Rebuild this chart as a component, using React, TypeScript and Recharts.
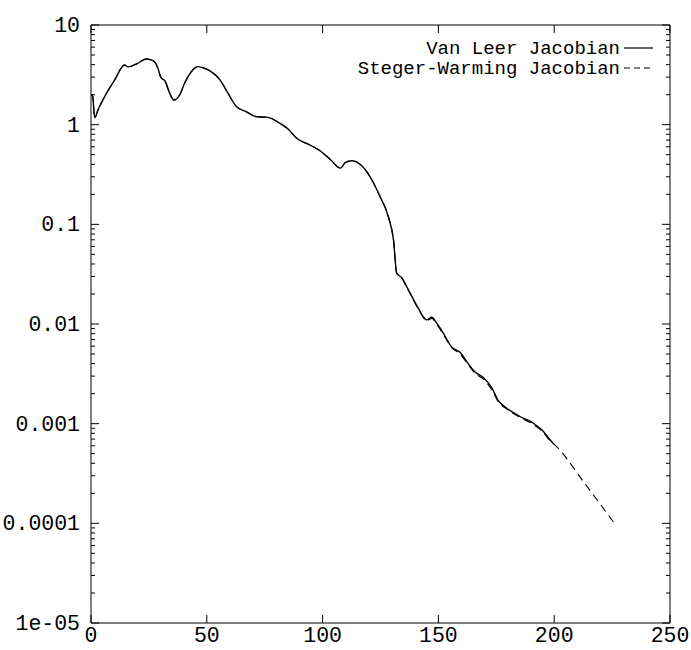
import { LineChart, Line, XAxis, YAxis } from 'recharts';

// Van Leer Jacobian: residual history
const vlIter = [0, 0.7, 1.6, 3, 5.9, 10.2, 14.5, 16, 19.6, 23.9, 26.8, 28.9, 30.1, 32.1, 34, 35.8, 38.3, 40.4, 43.3, 46.2, 48, 51, 56, 58.5, 62.9, 67, 71.5, 75.9, 81.6, 85.2, 88.8, 94.6, 98.9, 103.2, 107.8, 109.7, 112.6, 116.2, 120.5, 124.8, 128.4, 130.6, 132, 134.2, 136.3, 137.8, 141.3, 145, 147.1, 149.3, 152.1, 155.7, 159.3, 162.9, 165.8, 169.4, 173, 175.9, 179.5, 185.2, 191, 194.6, 198.9, 200];
const vlResidual = [2.0, 1.95, 1.17, 1.4, 1.91, 2.8, 3.97, 3.8, 4.06, 4.56, 4.38, 3.68, 3.0, 2.7, 2.06, 1.77, 1.99, 2.6, 3.4, 3.82, 3.75, 3.5, 2.75, 2.2, 1.51, 1.35, 1.2, 1.19, 1.03, 0.9, 0.73, 0.625, 0.548, 0.45, 0.366, 0.415, 0.435, 0.4, 0.3, 0.19, 0.119, 0.07, 0.0324, 0.029, 0.0237, 0.0204, 0.0144, 0.011, 0.0117, 0.0102, 0.0081, 0.0059, 0.0052, 0.004, 0.0033, 0.0029, 0.0023, 0.0017, 0.00143, 0.00118, 0.00101, 0.00087, 0.00066, 0.00062];

// Steger-Warming Jacobian: residual history (runs a bit longer)
const swIter = [0, 0.7, 1.6, 3, 5.9, 10.2, 14.5, 16, 19.6, 23.9, 26.8, 28.9, 30.1, 32.1, 34, 35.8, 38.3, 40.4, 43.3, 46.2, 48, 51, 56, 58.5, 62.9, 67, 71.5, 75.9, 81.6, 85.2, 88.8, 94.6, 98.9, 103.2, 107.8, 109.7, 112.6, 116.2, 120.5, 124.8, 128.4, 130.6, 132, 134.2, 136.3, 137.8, 141.3, 145, 147.1, 149.3, 152.1, 155.7, 159.3, 162.9, 165.8, 169.4, 173, 175.9, 179.5, 185.2, 191, 194.6, 198.9, 200, 213, 226];
const swResidual = [2.0, 1.95, 1.17, 1.4, 1.91, 2.8, 3.97, 3.8, 4.06, 4.56, 4.38, 3.68, 3.0, 2.7, 2.06, 1.77, 1.99, 2.6, 3.4, 3.82, 3.75, 3.5, 2.75, 2.2, 1.51, 1.35, 1.2, 1.19, 1.03, 0.9, 0.73, 0.625, 0.548, 0.45, 0.366, 0.415, 0.435, 0.4, 0.3, 0.19, 0.119, 0.07, 0.0324, 0.029, 0.0236, 0.0202, 0.0142, 0.0108, 0.0114, 0.0099, 0.0079, 0.0058, 0.005, 0.0039, 0.0032, 0.0028, 0.0022, 0.00165, 0.0014, 0.00116, 0.00098, 0.00085, 0.00065, 0.00062, 0.000255, 0.0001];

const xTicks = [0, 50, 100, 150, 200, 250];
const decades = [1e-5, 1e-4, 1e-3, 1e-2, 1e-1, 1, 10];
const decadeLabels = ['1e-05', '0.0001', '0.001', '0.01', '0.1', '1', '10'];
const legendNames = ['Van Leer Jacobian', 'Steger-Warming Jacobian'];

const vlData = vlIter.map((it, i) => ({ it, res: vlResidual[i] }));
const swData = swIter.map((it, i) => ({ it, res: swResidual[i] }));

// major decade ticks plus 2..9 minor ticks in between
const yTicks: number[] = [];
decades.forEach((d, i) => {
  yTicks.push(d);
  if (i < decades.length - 1) {
    for (let m = 2; m <= 9; m++) yTicks.push(d * m);
  }
});

const FONT = '"Liberation Mono", "DejaVu Sans Mono", monospace';
const TICK_FONT = 21.5;

const majorIndex = (v: number) => decades.findIndex((d) => Math.abs(v - d) / d < 1e-6);

const LeftTick = ({ x, y, payload }: any) => {
  const idx = majorIndex(payload.value);
  const major = idx >= 0;
  return (
    <g>
      <line x1={x} x2={x + (major ? 8 : 4)} y1={y} y2={y} stroke="#000" />
      {major && (
        <text x={x - 11} y={y + 7} textAnchor="end" fontFamily={FONT} fontSize={TICK_FONT} fill="#000">
          {decadeLabels[idx]}
        </text>
      )}
    </g>
  );
};

const RightTick = ({ x, y, payload }: any) => {
  const major = majorIndex(payload.value) >= 0;
  return <line x1={x} x2={x - (major ? 8 : 4)} y1={y} y2={y} stroke="#000" />;
};

const BottomTick = ({ x, y, payload }: any) => (
  <g>
    <line x1={x} x2={x} y1={y} y2={y - 8} stroke="#000" />
    <text x={x} y={y + 19} textAnchor="middle" fontFamily={FONT} fontSize={TICK_FONT} fill="#000">
      {payload.value}
    </text>
  </g>
);

const TopTick = ({ x, y }: any) => <line x1={x} x2={x} y1={y} y2={y + 8} stroke="#000" />;

// key in the upper right corner, text right-aligned against a line sample
const KeyBox = () => (
  <svg width={300} height={50} style={{ position: 'absolute', left: 356, top: 33 }}>
    <text x={264} y={21} textAnchor="end" fontFamily={FONT} fontSize={19} fill="#000">
      {legendNames[0]}
    </text>
    <line x1={268} x2={297} y1={15} y2={15} stroke="#000" strokeWidth={1.2} />
    <text x={264} y={41} textAnchor="end" fontFamily={FONT} fontSize={19} fill="#000">
      {legendNames[1]}
    </text>
    <line x1={268} x2={297} y1={35} y2={35} stroke="#000" strokeWidth={1.2} strokeDasharray="6 4" />
  </svg>
);

export default function App() {
  return (
    <div style={{ position: 'absolute', left: 0, top: 0, width: 691, height: 650, background: '#fff' }}>
      <LineChart width={691} height={650} margin={{ top: 5, right: 1, left: 31, bottom: 1 }}>
        <XAxis
          xAxisId="bottom"
          dataKey="it"
          type="number"
          domain={[0, 250]}
          ticks={xTicks}
          allowDataOverflow
          height={26}
          tickSize={0}
          tickMargin={0}
          tickLine={false}
          axisLine={{ stroke: '#000' }}
          tick={<BottomTick />}
        />
        <XAxis
          xAxisId="top"
          orientation="top"
          dataKey="it"
          type="number"
          domain={[0, 250]}
          ticks={xTicks}
          allowDataOverflow
          height={20}
          tickSize={0}
          tickMargin={0}
          tickLine={false}
          axisLine={{ stroke: '#000' }}
          tick={<TopTick />}
        />
        <YAxis
          yAxisId="left"
          scale="log"
          domain={[1e-5, 10]}
          ticks={yTicks}
          allowDataOverflow
          width={60}
          tickSize={0}
          tickMargin={0}
          tickLine={false}
          axisLine={{ stroke: '#000' }}
          tick={<LeftTick />}
          interval={0}
        />
        <YAxis
          yAxisId="right"
          orientation="right"
          scale="log"
          domain={[1e-5, 10]}
          ticks={yTicks}
          allowDataOverflow
          width={20}
          tickSize={0}
          tickMargin={0}
          tickLine={false}
          axisLine={{ stroke: '#000' }}
          tick={<RightTick />}
          interval={0}
        />
        <Line
          xAxisId="bottom"
          yAxisId="left"
          data={vlData}
          dataKey="res"
          type="monotone"
          stroke="#000"
          strokeWidth={1.4}
          dot={false}
          isAnimationActive={false}
        />
        <Line
          xAxisId="bottom"
          yAxisId="left"
          data={swData}
          dataKey="res"
          type="monotone"
          stroke="#000"
          strokeWidth={1.1}
          strokeDasharray="8 5"
          dot={false}
          isAnimationActive={false}
        />
      </LineChart>
      <KeyBox />
    </div>
  );
}
